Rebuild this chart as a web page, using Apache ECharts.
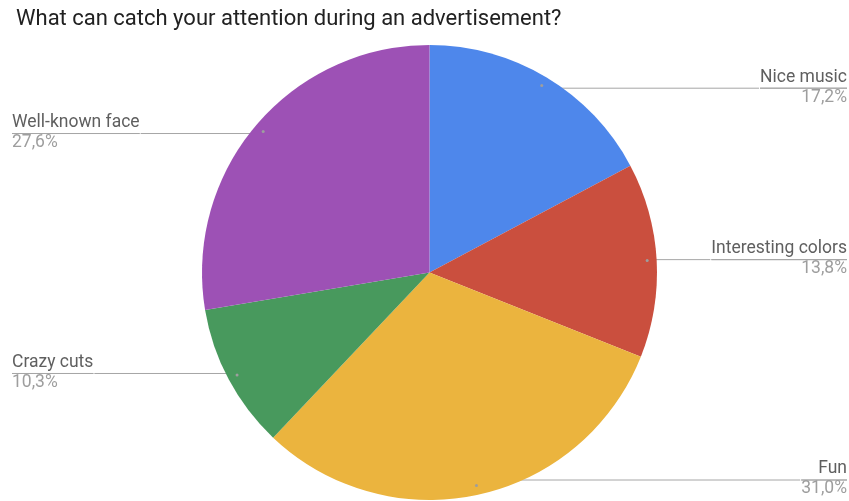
<!DOCTYPE html>
<html>
<head>
<meta charset="utf-8">
<script src="https://cdn.jsdelivr.net/npm/echarts@6/dist/echarts.min.js"></script>
<style>
  html, body { margin: 0; padding: 0; background: #ffffff; }
  #chart { width: 849px; height: 501px; }
</style>
</head>
<body>
<div id="chart"></div>
<script>
// Survey answers: share of respondents per option (percent)
const categories = ['Nice music', 'Interesting colors', 'Fun', 'Crazy cuts', 'Well-known face'];
const shares = [17.2, 13.8, 31.0, 10.3, 27.6];
const sliceColors = ['#4E87EB', '#CA4F3E', '#EBB43E', '#48995D', '#9D51B5'];
const chartTitle = 'What can catch your attention during an advertisement?';

const FONT = 'Roboto, "Noto Sans", sans-serif';
const CENTER = [419.5, 272.5];   // relative to the series box (left: 10)
const RADIUS = 227.5;
const LABEL_RADIUS = 215;

const pieData = categories.map((name, i) => ({ name: name, value: shares[i] }));
const fmtPct = v => v.toFixed(1).replace('.', ',') + '%';

const chart = echarts.init(document.getElementById('chart'), null, { renderer: 'canvas' });

chart.setOption({
  animation: false,
  backgroundColor: '#ffffff',
  title: {
    text: chartTitle,
    left: 11,
    top: 3,
    textStyle: { fontFamily: FONT, fontSize: 22, fontWeight: 'normal', color: '#212121' }
  },
  series: [
    {
      // the coloured slices
      type: 'pie',
      left: 10, right: 0, top: 0, bottom: 0,
      center: CENTER,
      radius: RADIUS,
      startAngle: 90,
      clockwise: true,
      silent: true,
      label: { show: false },
      labelLine: { show: false },
      data: pieData.map((d, i) => ({ name: d.name, value: d.value, itemStyle: { color: sliceColors[i] } }))
    },
    {
      // leader lines and edge-aligned labels, starting inside each slice
      type: 'pie',
      left: 10, right: 0, top: 0, bottom: 0,
      center: CENTER,
      radius: LABEL_RADIUS,
      startAngle: 90,
      clockwise: true,
      silent: true,
      itemStyle: { color: 'rgba(0,0,0,0)' },
      data: pieData,
      label: {
        show: true,
        position: 'outer',
        alignTo: 'edge',
        edgeDistance: 2,
        distanceToLabelLine: 0,
        formatter: p => '{name|' + p.name + '}\n{hr|}\n{pct|' + fmtPct(p.value) + '}',
        rich: {
          name: { fontFamily: FONT, fontSize: 17.5, color: '#5f5f5f', lineHeight: 20, padding: [0, 0, 2, 0] },
          hr: { width: '100%', height: 0, borderWidth: 1, borderColor: '#a6a6a6' },
          pct: { fontFamily: FONT, fontSize: 17.5, color: '#9e9e9e', lineHeight: 20, padding: [0, 0, 2, 0] }
        }
      },
      labelLine: {
        show: true,
        length: 0,
        length2: 10,
        smooth: false,
        lineStyle: { color: '#a6a6a6', width: 1 }
      }
    },
    {
      // small anchor dots at the start of each leader line
      type: 'pie',
      left: 10, right: 0, top: 0, bottom: 0,
      center: CENTER,
      radius: [LABEL_RADIUS - 2, LABEL_RADIUS + 2],
      startAngle: 90,
      clockwise: true,
      silent: true,
      itemStyle: { color: 'rgba(0,0,0,0)' },
      data: pieData,
      label: {
        show: true,
        position: 'inside',
        rotate: 0,
        formatter: '{dot|}',
        rich: { dot: { width: 3, height: 3, borderRadius: 1.5, backgroundColor: '#9e9e9e' } }
      },
      labelLine: { show: false }
    }
  ]
});
</script>
</body>
</html>
